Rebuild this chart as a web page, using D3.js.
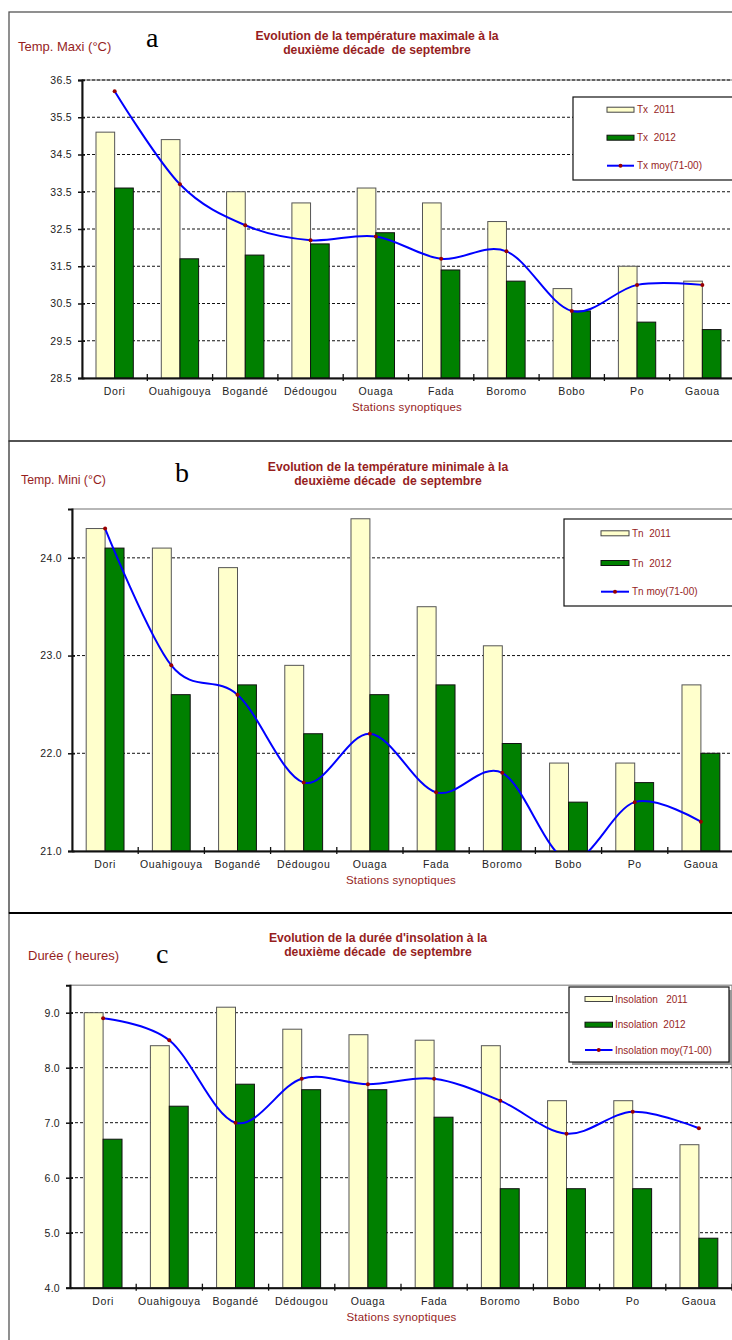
<!DOCTYPE html>
<html><head><meta charset="utf-8">
<script src="https://cdn.jsdelivr.net/npm/d3@7"></script>
<style>body{margin:0;background:#fff} svg{display:block}</style>
</head><body><svg id="chart" width="732" height="1340"></svg>
<script>
const stations = ["Dori","Ouahigouya","Bogandé","Dédougou","Ouaga","Fada","Boromo","Bobo","Po","Gaoua"];
const tx2011 = [35.1,34.9,33.5,33.2,33.6,33.2,32.7,30.9,31.5,31.1];
const tx2012 = [33.6,31.7,31.8,32.1,32.4,31.4,31.1,30.3,30.0,29.8];
const txMoy  = [36.2,33.7,32.6,32.2,32.3,31.7,31.9,30.3,31.0,31.0];
const tn2011 = [24.3,24.1,23.9,22.9,24.4,23.5,23.1,21.9,21.9,22.7];
const tn2012 = [24.1,22.6,22.7,22.2,22.6,22.7,22.1,21.5,21.7,22.0];
const tnMoy  = [24.3,22.9,22.6,21.7,22.2,21.6,21.8,20.9,21.5,21.3];
const ins2011 = [9.0,8.4,9.1,8.7,8.6,8.5,8.4,7.4,7.4,6.6];
const ins2012 = [6.7,7.3,7.7,7.6,7.6,7.1,5.8,5.8,5.8,4.9];
const insMoy  = [8.9,8.5,7.0,7.8,7.7,7.8,7.4,6.8,7.2,6.9];
const txTicks = [28.5,29.5,30.5,31.5,32.5,33.5,34.5,35.5,36.5];
const tnTicks = [21,22,23,24];
const insTicks = [4,5,6,7,8,9];
const legendTx = ["Tx  2011","Tx  2012","Tx moy(71-00)"];
const legendTn = ["Tn  2011","Tn  2012","Tn moy(71-00)"];
const legendIns = ["Insolation   2011","Insolation  2012","Insolation moy(71-00)"];
const xTitle = "Stations synoptiques";

const RED = "#961E1E", YEL = "#FFFFCC", GRN = "#008000", BLUE = "#0000FF", MK = "#990000";
const FONT = "'Liberation Sans', Arial, sans-serif";
const svg = d3.select("#chart");

// outer panel frames
svg.append("rect").attr("x",9).attr("y",12).attr("width",800).attr("height",429)
  .attr("fill","none").attr("stroke","#555").attr("stroke-width",1.3);
svg.append("rect").attr("x",9).attr("y",441).attr("width",800).attr("height",472)
  .attr("fill","none").attr("stroke","#333").attr("stroke-width",1.3);
svg.append("rect").attr("x",9).attr("y",913).attr("width",800).attr("height",500)
  .attr("fill","none").attr("stroke","#555").attr("stroke-width",1.3);
svg.append("line").attr("x1",9).attr("x2",732).attr("y1",913).attr("y2",913)
  .attr("stroke","#000").attr("stroke-width",2);

let clipId = 0;
function panel(cfg){
  const g = svg.append("g");
  const x = d3.scaleBand().domain(stations).range([cfg.left, cfg.right]);
  const y = d3.scaleLinear().domain(cfg.domain).range([cfg.bottom, cfg.top]);
  const bw = x.bandwidth();
  const gw = bw/1.75;
  const xs = d3.scaleBand().domain(["s1","s2"]).range([-gw/2, gw/2]);

  // plot area border
  g.append("rect").attr("x",cfg.left).attr("y",cfg.top)
    .attr("width",cfg.right-cfg.left).attr("height",cfg.bottom-cfg.top)
    .attr("fill","none").attr("stroke","#888").attr("stroke-width",1.2);

  // gridlines
  g.selectAll(".grid").data(cfg.ticks.filter(t=>t!==cfg.domain[0])).join("line")
    .attr("x1",cfg.left).attr("x2",cfg.right)
    .attr("y1",d=>y(d)).attr("y2",d=>y(d))
    .attr("stroke","#111").attr("stroke-width",1).attr("stroke-dasharray","3,2");

  // bars
  const rows = stations.map((s,i)=>({s, v1:cfg.s1[i], v2:cfg.s2[i], m:cfg.m[i]}));
  g.selectAll(".b1").data(rows).join("rect")
    .attr("x",d=>x(d.s)+bw/2+xs("s1")).attr("width",xs.bandwidth())
    .attr("y",d=>y(d.v1)).attr("height",d=>cfg.bottom-y(d.v1))
    .attr("fill",YEL).attr("stroke","#555").attr("stroke-width",1);
  g.selectAll(".b2").data(rows).join("rect")
    .attr("x",d=>x(d.s)+bw/2+xs("s2")).attr("width",xs.bandwidth())
    .attr("y",d=>y(d.v2)).attr("height",d=>cfg.bottom-y(d.v2))
    .attr("fill",GRN).attr("stroke","#111").attr("stroke-width",1);

  // y axis
  const ya = g.append("g").attr("transform",`translate(${cfg.left},0)`)
    .call(d3.axisLeft(y).tickValues(cfg.ticks).tickFormat(d3.format(".1f")).tickSize(4).tickPadding(6));
  ya.select(".domain").attr("stroke","#111").attr("stroke-width",2);
  ya.selectAll(".tick line").attr("x1",3).attr("stroke","#111").attr("stroke-width",1.5);
  ya.selectAll(".tick text").attr("font-family",FONT).attr("font-size","10.5px")
    .attr("fill","#222").attr("letter-spacing","0.3px");

  // x axis
  const xa = g.append("g").attr("transform",`translate(0,${cfg.bottom})`)
    .call(d3.axisBottom(x).tickSize(0).tickPadding(10));
  xa.select(".domain").attr("stroke","#111").attr("stroke-width",2);
  xa.selectAll(".tick text").attr("font-family",FONT).attr("font-size","10.5px")
    .attr("fill","#222").attr("letter-spacing","0.6px");
  g.selectAll(".xt").data(stations).join("line")
    .attr("x1",d=>x(d)+bw).attr("x2",d=>x(d)+bw)
    .attr("y1",cfg.bottom-4).attr("y2",cfg.bottom+3)
    .attr("stroke","#111").attr("stroke-width",1.3);

  // x title
  g.append("text").attr("x",cfg.xtX).attr("y",cfg.bottom+33).attr("text-anchor","middle")
    .attr("font-family",FONT).attr("font-size","11.5px").attr("letter-spacing","0.2px")
    .attr("fill",RED).text(xTitle);

  // smoothed mean line, clipped to plot area
  const cid = "clip"+(clipId++);
  g.append("clipPath").attr("id",cid).append("rect")
    .attr("x",cfg.left).attr("y",cfg.top).attr("width",cfg.right-cfg.left).attr("height",cfg.bottom-cfg.top);
  const lg = g.append("g").attr("clip-path",`url(#${cid})`);
  const line = d3.line().x(d=>x(d.s)+bw/2).y(d=>y(d.m)).curve(d3.curveCardinal.tension(0));
  lg.append("path").datum(rows).attr("d",line).attr("fill","none")
    .attr("stroke",BLUE).attr("stroke-width",2);
  lg.selectAll(".mk").data(rows).join("circle")
    .attr("cx",d=>x(d.s)+bw/2).attr("cy",d=>y(d.m)).attr("r",2).attr("fill",MK);

  // texts: y title, letter, title
  g.append("text").attr("x",cfg.ytX).attr("y",cfg.ytY).attr("font-family",FONT)
    .attr("font-size",cfg.ytSize).attr("fill",RED).text(cfg.yTitle);
  g.append("text").attr("x",cfg.letX).attr("y",cfg.letY).attr("font-family","'Liberation Serif', 'Times New Roman', serif")
    .attr("font-size","28px").attr("fill","#000").text(cfg.letter);
  cfg.title.forEach((t,i)=>{
    g.append("text").attr("x",cfg.tX).attr("y",cfg.tY+i*14.5).attr("text-anchor","middle")
      .attr("font-family",FONT).attr("font-weight","bold").attr("font-size","12.2px")
      .attr("fill",RED).attr("xml:space","preserve").style("white-space","pre").text(t);
  });

  // legend
  const L = cfg.leg;
  if(L.shadow){
    g.append("rect").attr("x",L.x+3).attr("y",L.y+3).attr("width",L.w).attr("height",L.h).attr("fill","#999");
  }
  g.append("rect").attr("x",L.x).attr("y",L.y).attr("width",L.w).attr("height",L.h)
    .attr("fill","#fff").attr("stroke","#111").attr("stroke-width",1.2);
  cfg.legend.forEach((t,i)=>{
    const cy = L.ys[i];
    if(i<2){
      g.append("rect").attr("x",L.sx).attr("y",cy-2.5).attr("width",L.sw).attr("height",5)
        .attr("fill",i===0?YEL:GRN).attr("stroke",i===0?"#444":"#111").attr("stroke-width",1);
    } else {
      g.append("line").attr("x1",L.sx).attr("x2",L.sx+L.sw).attr("y1",cy).attr("y2",cy)
        .attr("stroke",BLUE).attr("stroke-width",2);
      g.append("circle").attr("cx",L.sx+L.sw/2).attr("cy",cy).attr("r",2).attr("fill",MK);
    }
    g.append("text").attr("x",L.tx).attr("y",cy+3.6).attr("font-family",FONT).attr("font-size","10px")
      .attr("fill",RED).style("white-space","pre").text(t);
  });
}

panel({left:82,right:735,top:80,bottom:378,domain:[28.5,36.5],ticks:txTicks,
  s1:tx2011,s2:tx2012,m:txMoy,xtX:407,
  yTitle:"Temp. Maxi (°C)",ytX:18,ytY:51,ytSize:"13px",letter:"a",letX:146,letY:47,
  title:["Evolution de la température maximale à la","deuxième décade  de septembre"],tX:377,tY:39.5,
  legend:legendTx,leg:{x:573,y:97,w:200,h:83,ys:[109.7,137.7,165.7],sx:607,sw:27,tx:637}});

panel({left:72,right:734,top:509,bottom:851,domain:[21,24.5],ticks:tnTicks,
  s1:tn2011,s2:tn2012,m:tnMoy,xtX:401,
  yTitle:"Temp. Mini (°C)",ytX:21,ytY:484,ytSize:"12.3px",letter:"b",letX:175,letY:482,
  title:["Evolution de la température minimale à la","deuxième décade  de septembre"],tX:388,tY:470.7,
  legend:legendTn,leg:{x:564,y:519,w:200,h:87,ys:[533.3,563,591.7],sx:601,sw:28,tx:632}});

panel({left:70,right:732,top:985.2,bottom:1287.7,domain:[4,9.5],ticks:insTicks,
  s1:ins2011,s2:ins2012,m:insMoy,xtX:401.5,
  yTitle:"Durée ( heures)",ytX:28,ytY:960,ytSize:"13px",letter:"c",letX:156,letY:963,
  title:["Evolution de la durée d'insolation à la","deuxième décade  de septembre"],tX:378,tY:941.7,
  legend:legendIns,leg:{x:569,y:987,w:160,h:75,ys:[999,1024.7,1050],sx:585,sw:27.5,tx:615,shadow:true}});
</script>
</body></html>
